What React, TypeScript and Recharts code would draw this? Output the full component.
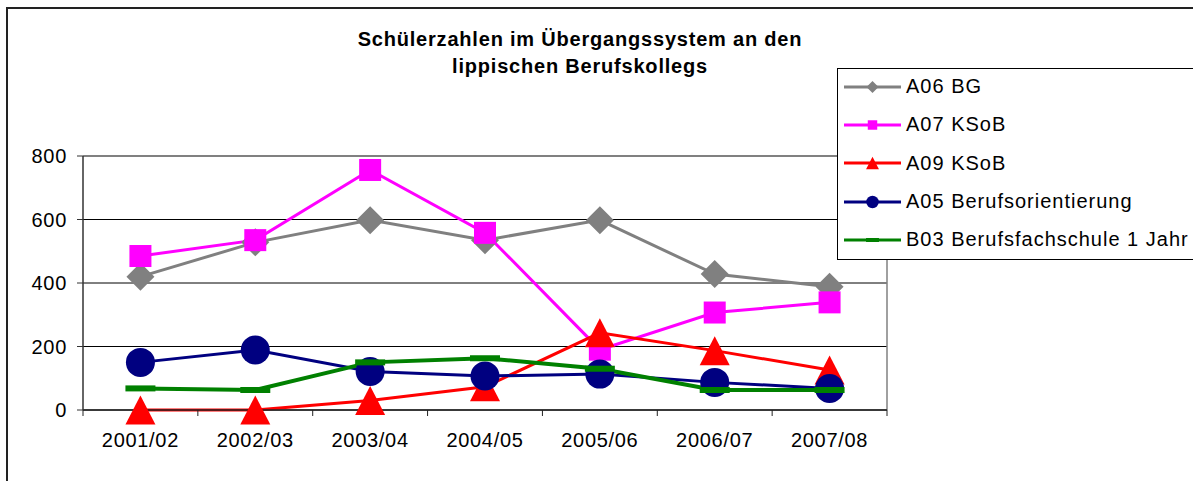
import { LineChart, Line, XAxis, YAxis, CartesianGrid, ReferenceLine } from 'recharts'

// school years on the x axis
const years = ['2001/02', '2002/03', '2003/04', '2004/05', '2005/06', '2006/07', '2007/08']

// values per series
const a06Bg = [420, 528, 598, 535, 598, 428, 388]
const a07KSoB = [485, 535, 756, 558, 190, 307, 339]
const a09KSoB = [0, 0, 30, 73, 243, 187, 126]
const a05Berufsorientierung = [150, 189, 121, 107, 113, 87, 68]
const b03Berufsfachschule = [68, 63, 150, 163, 130, 63, 63]

const yTicks = [0, 200, 400, 600, 800]

const titleLines = ['Schülerzahlen im Übergangssystem an den', 'lippischen Berufskollegs']

const data = years.map((year, i) => ({
  year,
  a06: a06Bg[i],
  a07: a07KSoB[i],
  a09: a09KSoB[i],
  a05: a05Berufsorientierung[i],
  b03: b03Berufsfachschule[i],
}))

type Shape = 'diamond' | 'square' | 'triangle' | 'circle' | 'dash'

const series: { key: string; name: string; color: string; shape: Shape; width: number }[] = [
  { key: 'a06', name: 'A06 BG', color: '#808080', shape: 'diamond', width: 3 },
  { key: 'a07', name: 'A07 KSoB', color: '#FF00FF', shape: 'square', width: 3 },
  { key: 'a09', name: 'A09 KSoB', color: '#FF0000', shape: 'triangle', width: 3 },
  { key: 'a05', name: 'A05 Berufsorientierung', color: '#000080', shape: 'circle', width: 3 },
  { key: 'b03', name: 'B03 Berufsfachschule 1 Jahr', color: '#008000', shape: 'dash', width: 4 },
]

const TICK_MARGIN = 23

function marker(shape: Shape, x: number, y: number, k: number, color: string, key?: string) {
  if (shape === 'diamond') {
    const h = 14 * k
    return <polygon key={key} points={`${x},${y - h} ${x + h},${y} ${x},${y + h} ${x - h},${y}`} fill={color} />
  }
  if (shape === 'square') {
    const s = 22 * k
    return <rect key={key} x={x - s / 2} y={y - s / 2} width={s} height={s} fill={color} />
  }
  if (shape === 'triangle') {
    const w = 15 * k
    const h = 14.5 * k
    return <polygon key={key} points={`${x},${y - h} ${x + w},${y + h} ${x - w},${y + h}`} fill={color} />
  }
  if (shape === 'circle') {
    return <circle key={key} cx={x} cy={y} r={14.5 * k} fill={color} />
  }
  const w = 30 * k
  const h = Math.max(6 * k, 4)
  return <rect key={key} x={x - w / 2} y={y - h / 2} width={w} height={h} fill={color} />
}

// category label plus the small tick marks that sit between categories
function YearTick(props: any) {
  const { x, y, payload, index, visibleTicksCount } = props
  const half = payload?.offset ?? 0
  const axisY = y - TICK_MARGIN
  return (
    <g>
      <line x1={x - half} y1={axisY} x2={x - half} y2={axisY + 6} stroke="#222" strokeWidth={1} />
      {index === visibleTicksCount - 1 && (
        <line x1={x + half} y1={axisY} x2={x + half} y2={axisY + 6} stroke="#222" strokeWidth={1} />
      )}
      <text x={x} y={y} dy="0.71em" textAnchor="middle" fill="#000" fontSize={20} letterSpacing={0.7}>
        {payload.value}
      </text>
    </g>
  )
}

function LegendBox() {
  return (
    <div
      style={{
        position: 'absolute',
        left: 837,
        top: 68,
        width: 370,
        height: 192,
        boxSizing: 'border-box',
        border: '1px solid #000',
        background: '#fff',
      }}
    >
      <div style={{ marginTop: -1.5 }}>
        {series.map((s) => (
          <div key={s.key} style={{ display: 'flex', alignItems: 'center', height: 38.3 }}>
            <svg width={62} height={20} style={{ marginLeft: 6, flex: 'none' }}>
              <line x1={0} y1={10} x2={57} y2={10} stroke={s.color} strokeWidth={3} />
              {marker(s.shape, 28.5, 10, 0.43, s.color)}
            </svg>
            <span style={{ fontSize: 20, letterSpacing: 1, whiteSpace: 'nowrap', color: '#000' }}>{s.name}</span>
          </div>
        ))}
      </div>
    </div>
  )
}

export default function App() {
  return (
    <div
      style={{
        position: 'fixed',
        left: 0,
        top: 0,
        width: 1193,
        height: 481,
        overflow: 'hidden',
        background: '#fff',
        fontFamily: '"Liberation Sans", Arial, sans-serif',
      }}
    >
      <div
        style={{
          position: 'absolute',
          left: 6,
          top: 7,
          width: 1300,
          height: 600,
          borderLeft: '2px solid #222',
          borderTop: '2px solid #222',
        }}
      />
      <div
        style={{
          position: 'absolute',
          left: 330,
          top: 26,
          width: 500,
          textAlign: 'center',
          fontWeight: 'bold',
          fontSize: 20,
          lineHeight: '27px',
          letterSpacing: 0.8,
          color: '#000',
        }}
      >
        {titleLines.map((t) => (
          <div key={t}>{t}</div>
        ))}
      </div>
      <div style={{ position: 'absolute', left: 0, top: 0 }}>
        <LineChart width={1193} height={481} data={data} margin={{ top: 156, right: 306, bottom: 31, left: 0 }}>
          <CartesianGrid vertical={false} stroke="#000" strokeWidth={1} yAxisId="v" xAxisId="cat" />
          <XAxis
            xAxisId="cat"
            dataKey="year"
            scale="band"
            height={40}
            axisLine={{ stroke: '#222', strokeWidth: 1.5 }}
            tickLine={false}
            tickSize={0}
            tickMargin={TICK_MARGIN}
            interval={0}
            tick={<YearTick />}
          />
          <YAxis
            yAxisId="v"
            width={83}
            domain={[0, 800]}
            ticks={yTicks}
            interval={0}
            axisLine={{ stroke: '#333', strokeWidth: 1.5 }}
            tickLine={{ stroke: '#333' }}
            tickSize={6}
            tickMargin={10}
            tick={{ fill: '#000', fontSize: 20, letterSpacing: 0.7 }}
          />
          <ReferenceLine yAxisId="v" xAxisId="cat" y={800} stroke="#808080" strokeWidth={1.5} />
          <ReferenceLine
            yAxisId="v"
            xAxisId="cat"
            x={years[years.length - 1]}
            position="end"
            stroke="#808080"
            strokeWidth={1.5}
          />
          {series.map((s) => (
            <Line
              key={s.key}
              xAxisId="cat"
              yAxisId="v"
              dataKey={s.key}
              name={s.name}
              stroke={s.color}
              strokeWidth={s.width}
              isAnimationActive={false}
              activeDot={false}
              dot={(p: any) => marker(s.shape, p.cx, p.cy, 1, s.color, `${s.key}-${p.index}`)}
            />
          ))}
        </LineChart>
      </div>
      <LegendBox />
    </div>
  )
}
